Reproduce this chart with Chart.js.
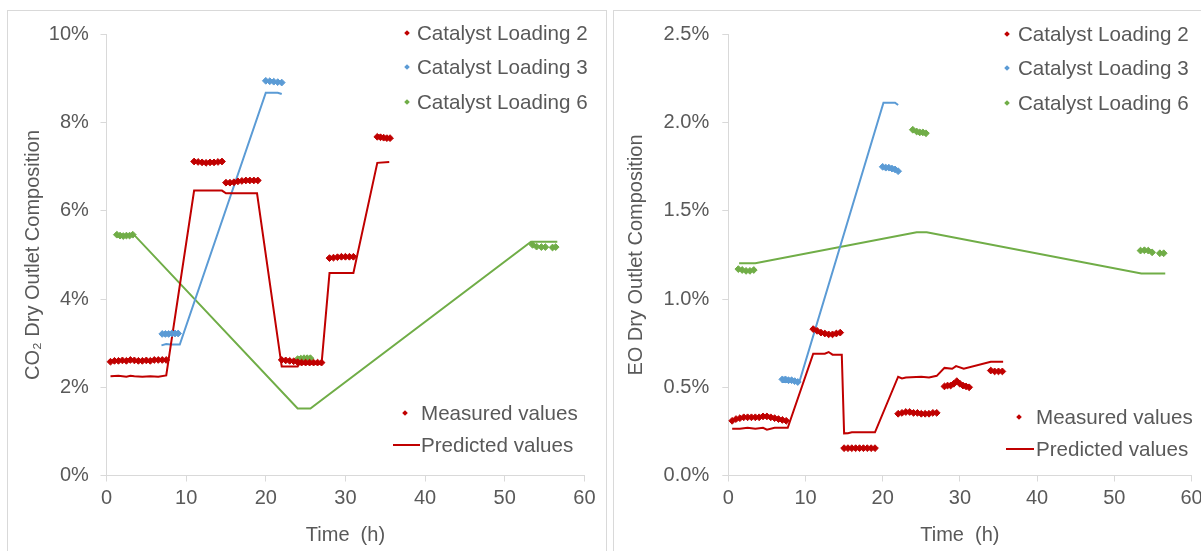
<!DOCTYPE html>
<html>
<head>
<meta charset="utf-8">
<script src="https://cdn.jsdelivr.net/npm/chart.js@4"></script>
<style>
  html,body{margin:0;padding:0;background:#fff;}
  body{width:1201px;height:551px;overflow:hidden;position:relative;font-family:"Liberation Sans",Arial,sans-serif;}
  .panel{position:absolute;border:1px solid #d9d9d9;box-sizing:content-box;}
  .wrap{position:absolute;top:0;width:600px;height:551px;}
  .lg{position:absolute;font-size:20.6px;line-height:24px;color:#595959;white-space:nowrap;}
  .mk{position:absolute;width:4px;height:4px;transform:rotate(45deg);}
  .ln{position:absolute;height:2px;background:#c00000;}
</style>
</head>
<body>
<div class="panel" style="left:7px;top:10px;width:598px;height:560px"></div>
<div class="panel" style="left:613px;top:10px;width:620px;height:560px"></div>
<div class="wrap" style="left:0"><canvas id="c1" width="600" height="551"></canvas></div>
<div class="wrap" style="left:613px"><canvas id="c2" width="600" height="551"></canvas></div>

<!-- left legends -->
<div class="mk" style="left:405px;top:31px;background:#c00000"></div>
<div class="lg" style="left:417px;top:21px">Catalyst Loading 2</div>
<div class="mk" style="left:405px;top:65px;background:#5b9bd5"></div>
<div class="lg" style="left:417px;top:55px">Catalyst Loading 3</div>
<div class="mk" style="left:405px;top:100px;background:#70ad47"></div>
<div class="lg" style="left:417px;top:90px">Catalyst Loading 6</div>
<div class="mk" style="left:403px;top:411px;background:#c00000"></div>
<div class="lg" style="left:421px;top:401px">Measured values</div>
<div class="ln" style="left:393px;top:444px;width:27px"></div>
<div class="lg" style="left:421px;top:433px">Predicted values</div>

<!-- right legends -->
<div class="mk" style="left:1005px;top:32px;background:#c00000"></div>
<div class="lg" style="left:1018px;top:22px">Catalyst Loading 2</div>
<div class="mk" style="left:1005px;top:66px;background:#5b9bd5"></div>
<div class="lg" style="left:1018px;top:56px">Catalyst Loading 3</div>
<div class="mk" style="left:1005px;top:101px;background:#70ad47"></div>
<div class="lg" style="left:1018px;top:91px">Catalyst Loading 6</div>
<div class="mk" style="left:1017px;top:415px;background:#c00000"></div>
<div class="lg" style="left:1036px;top:405px">Measured values</div>
<div class="ln" style="left:1006px;top:448px;width:28px"></div>
<div class="lg" style="left:1036px;top:437px">Predicted values</div>

<script>
// ---------- tick labels ----------
const xTickLabels = ['0','10','20','30','40','50','60'];
const yTickLabelsCO2 = ['0%','2%','4%','6%','8%','10%'];
const yTickLabelsEO = ['0.0%','0.5%','1.0%','1.5%','2.0%','2.5%'];

// ---------- CO2 chart (time h, percent) ----------
const co2Loading2Measured = [
  [0.5,2.58],[1,2.60],[1.5,2.60],[2,2.61],[2.5,2.60],[3,2.62],[3.5,2.61],[4,2.60],[4.5,2.60],[5,2.61],[5.5,2.60],[6,2.62],[6.5,2.62],[7,2.62],[7.5,2.62],
  [11,7.12],[11.5,7.11],[12,7.10],[12.5,7.09],[13,7.10],[13.5,7.10],[14,7.11],[14.5,7.12],
  [15,6.64],[15.5,6.64],[16,6.65],[16.5,6.67],[17,6.68],[17.5,6.69],[18,6.69],[18.5,6.69],[19,6.69],
  [22,2.62],[22.5,2.61],[23,2.60],[23.5,2.59],[24,2.57],[24.5,2.56],[25,2.56],[25.5,2.56],[26,2.56],[26.5,2.56],[27,2.56],
  [28,4.93],[28.5,4.94],[29,4.95],[29.5,4.96],[30,4.96],[30.5,4.96],[31,4.96],
  [34,7.68],[34.4,7.67],[34.8,7.66],[35.2,7.65],[35.6,7.65]
];
const co2Loading2Predicted = [
  [0.5,2.25],[1.5,2.26],[2.5,2.24],[3,2.26],[3.5,2.25],[4.5,2.24],[5.5,2.25],[6.5,2.24],[7.5,2.27],
  [11,6.46],[14.5,6.46],[15,6.40],[18.9,6.40],[22,2.47],[24,2.47],[24.2,2.53],[27,2.53],
  [28,4.59],[31,4.59],[34,7.09],[35.5,7.11]
];
const co2Loading3Measured = [
  [7,3.21],[7.4,3.21],[7.8,3.21],[8.2,3.22],[8.6,3.22],[9,3.22],
  [20,8.95],[20.5,8.94],[21,8.93],[21.5,8.92],[22,8.91]
];
const co2Loading3Predicted = [
  [6.9,2.95],[7.5,2.98],[8,2.97],[9.2,2.97],[20,8.68],[21.5,8.68],[22,8.65]
];
const co2Loading6Measured = [
  [1.3,5.46],[1.7,5.44],[2.1,5.43],[2.5,5.44],[2.9,5.44],[3.3,5.46],
  [24,2.64],[24.4,2.65],[24.8,2.66],[25.2,2.66],[25.6,2.66],
  [53.5,5.23],[54,5.19],[54.6,5.18],[55.1,5.18],[56,5.17],[56.4,5.18]
];
const co2Loading6Predicted = [
  [1.5,5.45],[3.5,5.45],[24,1.52],[25.6,1.52],[53.3,5.30],[56.6,5.30]
];

// ---------- EO chart (time h, percent) ----------
const eoLoading2Measured = [
  [0.5,0.31],[1,0.32],[1.5,0.325],[2,0.33],[2.5,0.33],[3,0.33],[3.5,0.33],[4,0.33],[4.5,0.335],[5,0.335],[5.5,0.33],[6,0.325],[6.5,0.32],[7,0.315],[7.5,0.31],
  [11,0.83],[11.5,0.82],[12,0.81],[12.5,0.805],[13,0.80],[13.5,0.80],[14,0.805],[14.5,0.81],
  [15,0.155],[15.5,0.155],[16,0.155],[16.5,0.155],[17,0.155],[17.5,0.155],[18,0.155],[18.5,0.155],[19,0.155],
  [22,0.35],[22.5,0.355],[23,0.36],[23.5,0.36],[24,0.355],[24.5,0.355],[25,0.35],[25.5,0.35],[26,0.35],[26.5,0.355],[27,0.355],
  [28,0.505],[28.4,0.51],[28.8,0.51],[29.2,0.52],[29.6,0.535],[30,0.52],[30.4,0.51],[30.8,0.505],[31.2,0.50],
  [34,0.595],[34.5,0.59],[35,0.59],[35.5,0.59]
];
const eoLoading2Predicted = [
  [0.5,0.265],[1.5,0.265],[2.5,0.27],[3.5,0.265],[4.5,0.27],[5,0.26],[6,0.27],[7,0.27],[7.7,0.27],
  [11,0.69],[12.5,0.69],[13,0.70],[13.5,0.685],[14.7,0.685],[15,0.239],[15.5,0.24],[16,0.245],[19,0.245],
  [22,0.56],[22.5,0.55],[23,0.555],[25,0.56],[26,0.555],[27,0.565],[28,0.61],[29,0.605],[29.5,0.62],[30.5,0.605],[34,0.645],[35.6,0.645]
];
const eoLoading3Measured = [
  [7,0.545],[7.4,0.545],[7.8,0.54],[8.2,0.54],[8.6,0.535],[9,0.53],
  [20,1.75],[20.4,1.745],[20.8,1.745],[21.2,1.74],[21.6,1.735],[22,1.725]
];
const eoLoading3Predicted = [
  [6.9,0.53],[9.2,0.53],[20.1,2.113],[21.6,2.113],[22,2.10]
];
const eoLoading6Measured = [
  [1.3,1.17],[1.8,1.165],[2.3,1.16],[2.8,1.16],[3.3,1.165],
  [23.9,1.96],[24.4,1.95],[24.8,1.945],[25.2,1.945],[25.6,1.94],
  [53.4,1.275],[53.9,1.277],[54.4,1.275],[54.9,1.265],[55.9,1.26],[56.4,1.26]
];
const eoLoading6Predicted = [
  [1.4,1.203],[3.5,1.203],[24.4,1.379],[25.7,1.379],[53.5,1.145],[56.6,1.145]
];

const RED = '#c00000', BLUE = '#5b9bd5', GREEN = '#70ad47';
const TXT = '#595959', AX = '#d9d9d9';
const FAM = '"Liberation Sans", Arial, sans-serif';

const pts = a => a.map(([x, y]) => ({x, y}));
const meas = (d, c) => ({data: pts(d), showLine: false, pointStyle: 'rectRot', pointRadius: 3.4,
  pointBackgroundColor: c, pointBorderColor: c, pointBorderWidth: 1, borderColor: c, backgroundColor: c});
const pred = (d, c) => ({data: pts(d), showLine: true, pointRadius: 0, borderColor: c, borderWidth: 2,
  tension: 0, fill: false, borderJoinStyle: 'miter'});

function makeChart(id, sets, yMax, yStep, yLabels, yTitle, cfg) {
  new Chart(document.getElementById(id), {
    type: 'scatter',
    data: {datasets: sets},
    options: {
      responsive: false, animation: false, devicePixelRatio: 1,
      layout: {padding: {top: 34.5, right: cfg.padRight, left: 0, bottom: 0}},
      plugins: {legend: {display: false}, tooltip: {enabled: false}},
      scales: {
        x: {
          type: 'linear', min: 0, max: 60,
          ticks: {stepSize: 10, color: TXT, font: {size: 20, family: FAM}, padding: 4.5,
            callback: (v, i) => xTickLabels[i]},
          grid: {display: true, drawOnChartArea: false, drawTicks: true, tickLength: 6, color: AX},
          border: {color: AX, width: 1},
          title: {display: true, text: 'Time  (h)', color: TXT, font: {size: 20, family: FAM}, padding: {top: 0, bottom: 4}},
          afterFit: s => { s.height = 75.5; }
        },
        y: {
          type: 'linear', min: 0, max: yMax,
          ticks: {stepSize: yStep, color: TXT, font: {size: 20, family: FAM}, padding: cfg.tickPad,
            callback: (v, i) => yLabels[i]},
          grid: {display: true, drawOnChartArea: false, drawTicks: true, tickLength: 6, color: AX},
          border: {color: AX, width: 1},
          title: {display: true, text: yTitle, color: TXT, font: {size: 20, family: FAM}, padding: {top: cfg.titlePad, bottom: 0}},
          afterFit: s => { s.width = cfg.yWidth; }
        }
      }
    }
  });
}

makeChart('c1', [
  meas(co2Loading2Measured, RED), meas(co2Loading3Measured, BLUE), meas(co2Loading6Measured, GREEN),
  pred(co2Loading2Predicted, RED), pred(co2Loading3Predicted, BLUE), pred(co2Loading6Predicted, GREEN)
], 10, 2, yTickLabelsCO2, 'CO₂ Dry Outlet Composition', {padRight: 13.3, tickPad: 11.6, titlePad: 21, yWidth: 106.5});

makeChart('c2', [
  meas(eoLoading2Measured, RED), meas(eoLoading3Measured, BLUE), meas(eoLoading6Measured, GREEN),
  pred(eoLoading2Predicted, RED), pred(eoLoading3Predicted, BLUE), pred(eoLoading6Predicted, GREEN)
], 2.5, 0.5, yTickLabelsEO, 'EO Dry Outlet Composition', {padRight: 21.5, tickPad: 13.1, titlePad: 11, yWidth: 115.3});
</script>
</body>
</html>
